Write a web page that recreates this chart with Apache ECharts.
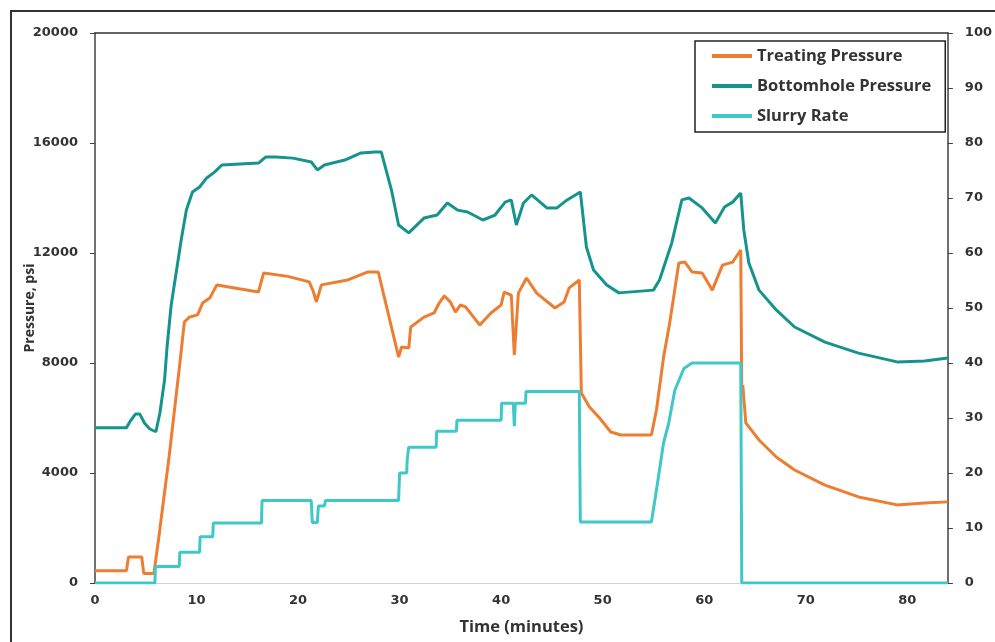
<!DOCTYPE html>
<html>
<head>
<meta charset="utf-8">
<script src="https://cdn.jsdelivr.net/npm/echarts@6/dist/echarts.min.js"></script>
<style>
  html, body { margin: 0; padding: 0; background: #fff; }
  #main { width: 995px; height: 642px; }
</style>
</head>
<body>
<div id="main"></div>
<script>
// time axis (minutes)
var xTicks = [0, 10, 20, 30, 40, 50, 60, 70, 80];
var leftTicks = [0, 4000, 8000, 12000, 16000, 20000];
var rightTicks = [0, 10, 20, 30, 40, 50, 60, 70, 80, 90, 100];

// Treating Pressure (psi)
var tpTime = [0, 3.1, 3.3, 4.6, 4.8, 5.8, 5.9, 6.3, 7.3, 8.3, 8.8, 9.3, 10.1, 10.6, 11.3, 12.0,
  16.1, 16.6, 19.0, 21.1, 21.5, 21.8, 22.3, 24.9, 26.9, 27.9, 29.9, 30.2, 30.9, 31.1, 32.4,
  33.4, 33.9, 34.4, 35.0, 35.5, 36.0, 36.5, 37.9, 39.0, 40.0, 40.3, 41.0, 41.3, 41.7, 42.5,
  43.5, 45.3, 46.2, 46.7, 47.7, 47.9, 48.7, 49.7, 50.8, 51.8, 54.8, 55.3, 56.0, 56.6, 57.5,
  58.1, 58.8, 59.8, 60.8, 61.8, 62.8, 63.6, 63.7, 63.8, 64.1, 65.4, 67.1, 68.9, 71.9, 75.2,
  79.0, 81.7, 84];
var tpPsi = [450, 450, 950, 950, 350, 350, 400, 1700, 4600, 7800, 9490, 9670, 9750, 10180, 10360, 10840,
  10580, 11270, 11150, 10950, 10600, 10220, 10840, 11020, 11310, 11310, 8220, 8580, 8545, 9310, 9670,
  9820, 10180, 10440, 10220, 9850, 10110, 10040, 9380, 9820, 10110, 10580, 10470, 8290, 10540, 11090,
  10540, 10000, 10220, 10730, 11020, 6910, 6400, 6000, 5490, 5380, 5380, 6290, 8220, 9450, 11640,
  11670, 11310, 11270, 10650, 11560, 11670, 12110, 6910, 7200, 5820, 5200, 4580, 4110, 3560, 3130,
  2840, 2910, 2950];

// Bottomhole Pressure (psi)
var bhTime = [0, 3.1, 3.5, 4.0, 4.4, 4.9, 5.4, 6.0, 6.4, 6.85, 7.1, 7.5, 8.0, 8.5, 9.0, 9.6, 10.3,
  11.0, 11.8, 12.5, 16.1, 16.8, 17.8, 19.5, 21.3, 21.9, 22.6, 24.6, 26.2, 27.6, 28.2, 29.2, 29.9,
  30.9, 32.4, 33.7, 34.7, 35.7, 36.7, 38.2, 39.4, 40.4, 41.0, 41.5, 42.2, 43.0, 44.5, 45.5, 46.5,
  47.8, 48.4, 49.1, 50.4, 51.6, 55.0, 55.6, 56.8, 57.8, 58.5, 59.8, 61.1, 62.0, 62.8, 63.6, 63.9,
  64.4, 65.4, 67.1, 68.9, 71.9, 75.2, 79.0, 81.7, 84];
var bhPsi = [5650, 5650, 5900, 6150, 6150, 5800, 5600, 5500, 6200, 7380, 8600, 10100, 11300, 12500, 13560, 14220, 14400,
  14730, 14950, 15200, 15270, 15490, 15490, 15450, 15310, 15020, 15200, 15380, 15640, 15670, 15670, 14290, 13020,
  12730, 13270, 13380, 13820, 13560, 13490, 13200, 13380, 13850, 13930, 13020, 13820, 14110, 13640, 13640, 13930,
  14220, 12220, 11380, 10840, 10550, 10650, 11020, 12360, 13930, 14000, 13640, 13090, 13670, 13850, 14180, 12840,
  11640, 10650, 9930, 9310, 8760, 8360, 8040, 8070, 8180];

// Slurry Rate (right axis)
var srTime = [0, 5.9, 5.95, 8.3, 8.35, 10.3, 10.35, 11.6, 11.65, 16.4, 16.45, 21.3, 21.4, 21.9, 22.0,
  22.6, 22.7, 29.9, 30.0, 30.7, 30.75, 30.85, 30.9, 33.6, 33.65, 35.6, 35.65, 40.0, 40.05, 41.2,
  41.3, 41.4, 42.4, 42.45, 47.7, 47.8, 54.8, 55.3, 56.0, 56.5, 57.1, 58.0, 58.8, 63.6, 63.7, 84];
var srRate = [0, 0, 3, 3, 5.6, 5.6, 8.4, 8.4, 10.9, 10.9, 15, 15, 11, 11, 14, 14, 15, 15, 20, 20, 22.4,
  22.4, 24.7, 24.7, 27.6, 27.6, 29.6, 29.6, 32.7, 32.7, 28.5, 32.7, 32.7, 34.8, 34.8, 11.1, 11.1,
  16.9, 25.5, 29, 35, 39, 40, 40, 0, 0];

function pairs(xs, ys) {
  return xs.map(function (x, i) { return [x, ys[i]]; });
}

var labelStyle = {
  fontFamily: 'DejaVu Sans',
  fontWeight: 'bold',
  fontSize: 13,
  color: '#333'
};

var chart = echarts.init(document.getElementById('main'));

var option = {
  animation: false,
  backgroundColor: '#fff',
  grid: { left: 95, right: 42, top: 33, bottom: 59 },
  graphic: [{
    type: 'rect',
    shape: { x: 11, y: 11, width: 1000, height: 700 },
    style: { fill: 'none', stroke: '#333', lineWidth: 2 },
    silent: true
  }],
  legend: {
    orient: 'vertical',
    left: 695,
    top: 41,
    padding: [6, 14, 7, 17],
    itemGap: 12,
    itemWidth: 40,
    itemHeight: 4,
    icon: 'rect',
    borderColor: '#222',
    borderWidth: 1.5,
    backgroundColor: '#fff',
    textStyle: { fontFamily: 'Open Sans', fontWeight: 'bold', fontSize: 16.5, color: '#333', lineHeight: 18 },
    data: ['Treating Pressure', 'Bottomhole Pressure', 'Slurry Rate']
  },
  xAxis: [{
    type: 'value',
    min: 0,
    max: 84,
    interval: 10,
    name: 'Time (minutes)',
    nameLocation: 'middle',
    nameGap: 36,
    nameMoveOverlap: false,
    nameTextStyle: { fontFamily: 'Open Sans', fontWeight: 'bold', fontSize: 16.5, color: '#333' },
    axisLine: { onZero: false, lineStyle: { color: '#d0d0d0', width: 1 } },
    axisTick: { show: false },
    splitLine: { show: false },
    axisLabel: Object.assign({ margin: 11, customValues: xTicks, formatter: function (v) { return String(v); } }, labelStyle)
  }, {
    type: 'value',
    position: 'top',
    min: 0,
    max: 84,
    axisLine: { show: true, onZero: false, lineStyle: { color: '#333', width: 1.5 } },
    axisTick: { show: false },
    axisLabel: { show: false },
    splitLine: { show: false }
  }],
  yAxis: [{
    type: 'value',
    min: 0,
    max: 20000,
    interval: 4000,
    name: 'Pressure, psi',
    nameLocation: 'middle',
    nameGap: 58,
    nameMoveOverlap: false,
    nameTextStyle: { fontFamily: 'Open Sans', fontWeight: 'bold', fontSize: 14, color: '#333' },
    axisLine: { show: true, onZero: false, lineStyle: { color: '#404040', width: 1.5 } },
    axisTick: { show: true, inside: false, length: 5, customValues: leftTicks, lineStyle: { color: '#404040' } },
    splitLine: { show: false },
    axisLabel: Object.assign({ margin: 17, customValues: leftTicks, formatter: function (v) { return String(v); } }, labelStyle)
  }, {
    type: 'value',
    position: 'right',
    min: 0,
    max: 100,
    interval: 10,
    axisLine: { show: true, onZero: false, lineStyle: { color: '#404040', width: 1.5 } },
    axisTick: { show: true, inside: false, length: 5, customValues: rightTicks, lineStyle: { color: '#404040' } },
    splitLine: { show: false },
    axisLabel: Object.assign({ margin: 17, customValues: rightTicks }, labelStyle)
  }],
  series: [{
    name: 'Treating Pressure',
    type: 'line',
    yAxisIndex: 0,
    showSymbol: false,
    symbol: 'none',
    itemStyle: { color: '#ed7d31' },
    lineStyle: { color: '#ed7d31', width: 3 },
    data: pairs(tpTime, tpPsi)
  }, {
    name: 'Bottomhole Pressure',
    type: 'line',
    yAxisIndex: 0,
    showSymbol: false,
    symbol: 'none',
    itemStyle: { color: '#15948e' },
    lineStyle: { color: '#15948e', width: 3 },
    data: pairs(bhTime, bhPsi)
  }, {
    name: 'Slurry Rate',
    type: 'line',
    yAxisIndex: 1,
    showSymbol: false,
    symbol: 'none',
    itemStyle: { color: '#3ec8c8' },
    lineStyle: { color: '#3ec8c8', width: 3 },
    data: pairs(srTime, srRate)
  }]
};

chart.setOption(option);
</script>
</body>
</html>
